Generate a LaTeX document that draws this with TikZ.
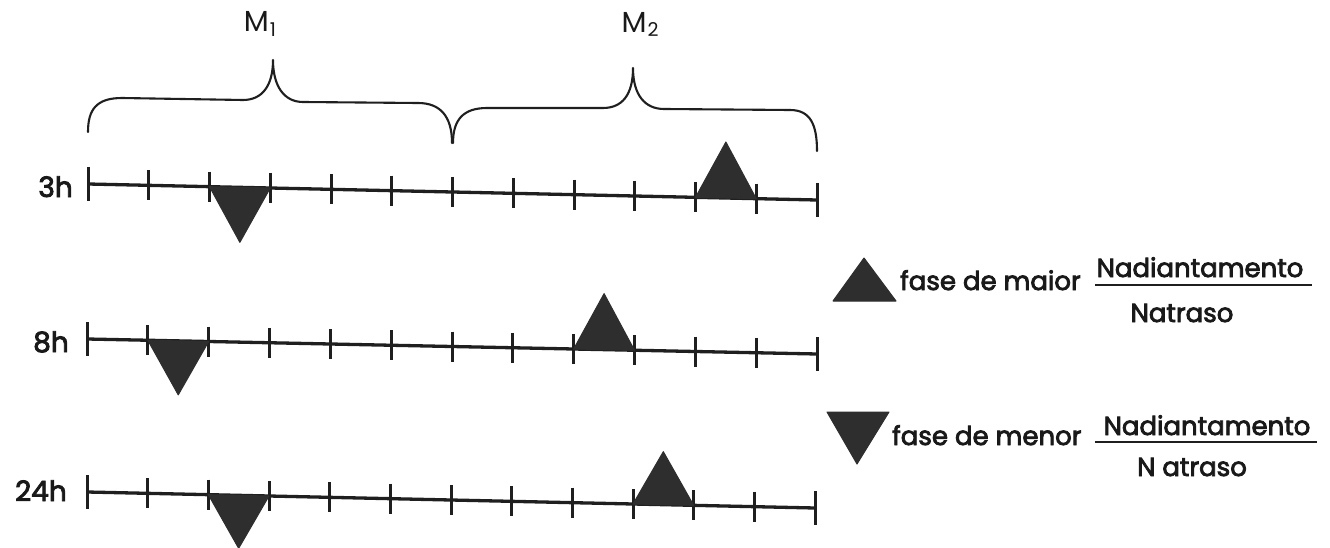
\documentclass[tikz,border=0pt]{standalone}
\usepackage{fontspec}
\setmainfont{Poppins}
\newfontfamily\medfont{Poppins}[FakeBold=3]
\usetikzlibrary{calc}
\tikzset{
  axisline/.style={line width=3.3pt, draw=black!88, line cap=butt},
  tickmark/.style={line width=3pt, draw=black!88},
  bracepath/.style={line width=2.1pt, draw=black!88, line join=round, line cap=round},
  tri/.style={fill=black!82, draw=black!82, line width=1pt, line join=round},
  rowlbl/.style={font=\fontsize{28}{28}\selectfont\medfont, inner sep=0pt, text=black!90},
  mlbl/.style={font=\fontsize{29}{29}\selectfont, inner sep=0pt, text=black!90},
  leg/.style={font=\fontsize{26}{26}\selectfont\medfont, inner sep=0pt, text=black!90},
  fracbar/.style={line width=2.8pt, draw=black!88},
}
\begin{document}
\begin{tikzpicture}[x=1pt,y=-1pt]
\useasboundingbox (0,0) rectangle (1330,548);

% ---------- braces ----------
\draw[bracepath] (88,132) .. controls (88,110) and (96,98) .. (122,98)
  -- (243,100) .. controls (262,100) and (273,86) .. (273,60)
  .. controls (273,86) and (284,102) .. (303,102)
  -- (418,103) .. controls (440,103) and (452,116) .. (452,143);
\draw[bracepath] (453,143) .. controls (453,120) and (463,108) .. (487,108)
  -- (603,108) .. controls (622,108) and (633,95) .. (633,68)
  .. controls (633,95) and (645,109) .. (664,109)
  -- (790,110) .. controls (810,110) and (817,124) .. (817,151);

\node[mlbl, anchor=base] (m1) at (260,32) {M\kern1pt\raisebox{-5pt}{\fontsize{19}{19}\selectfont 1}};
\node[mlbl, anchor=base] (m2) at (640,33) {M\kern1pt\raisebox{-4pt}{\fontsize{19}{19}\selectfont 2}};

% ---------- rows ----------
\coordinate (A3) at (88,184);  \coordinate (B3) at (817,200);
\coordinate (A8) at (87,339);  \coordinate (B8) at (817,354);
\coordinate (A24) at (87,492); \coordinate (B24) at (815,508);

\foreach \r in {3,8,24}{
  \draw[axisline] (A\r) -- (B\r);
  \foreach \i in {1,...,11}
    \draw[tickmark] ($(A\r)!{\i/12}!(B\r)$) ++(0,-15) -- ++(0,30);
  \draw[tickmark] (A\r) ++(0,-17) -- ++(0,34);
  \draw[tickmark] (B\r) ++(0,-17) -- ++(0,34);
}

\node[rowlbl, anchor=base east] (h3) at (73,197) {3h};
\node[rowlbl, anchor=base east] (h8) at (69,352) {8h};
\node[rowlbl, anchor=base east] (h24) at (67,501) {24h};

% triangles on rows
\filldraw[tri] ($(A3)!2/12!(B3)$) -- ($(A3)!3/12!(B3)$) -- ($(A3)!2.5/12!(B3)+(0,55)$) -- cycle;
\filldraw[tri] ($(A3)!10/12!(B3)$) -- ($(A3)!11/12!(B3)$) -- ($(A3)!10.5/12!(B3)+(0,-56)$) -- cycle;
\filldraw[tri] ($(A8)!1/12!(B8)$) -- ($(A8)!2/12!(B8)$) -- ($(A8)!1.5/12!(B8)+(0,54)$) -- cycle;
\filldraw[tri] ($(A8)!8/12!(B8)$) -- ($(A8)!9/12!(B8)$) -- ($(A8)!8.5/12!(B8)+(0,-56)$) -- cycle;
\filldraw[tri] ($(A24)!2/12!(B24)$) -- ($(A24)!3/12!(B24)$) -- ($(A24)!2.5/12!(B24)+(0,53)$) -- cycle;
\filldraw[tri] ($(A24)!9/12!(B24)$) -- ($(A24)!10/12!(B24)$) -- ($(A24)!9.5/12!(B24)+(0,-53)$) -- cycle;

% ---------- legend ----------
\filldraw[tri] (833,301) -- (896,301) -- (864,258) -- cycle;
\node[leg, anchor=base west] (maior) at (900,290) {fase de maior};
\coordinate (f1a) at (1095,285); \coordinate (f1b) at (1312,285);
\draw[fracbar] (f1a) -- (f1b);
\node[leg, anchor=base] (num1) at (1200,277) {Nadiantamento};
\node[leg, anchor=base] (den1) at (1182,322) {Natraso};

\filldraw[tri] (827,412) -- (889,412) -- (857,464) -- cycle;
\node[leg, anchor=base west] (menor) at (892,445) {fase de menor};
\coordinate (f2a) at (1095,442); \coordinate (f2b) at (1317,442);
\draw[fracbar] (f2a) -- (f2b);
\node[leg, anchor=base] (num2) at (1207,435) {Nadiantamento};
\node[leg, anchor=base] (den2) at (1192,476) {N atraso};
\end{tikzpicture}
\end{document}
